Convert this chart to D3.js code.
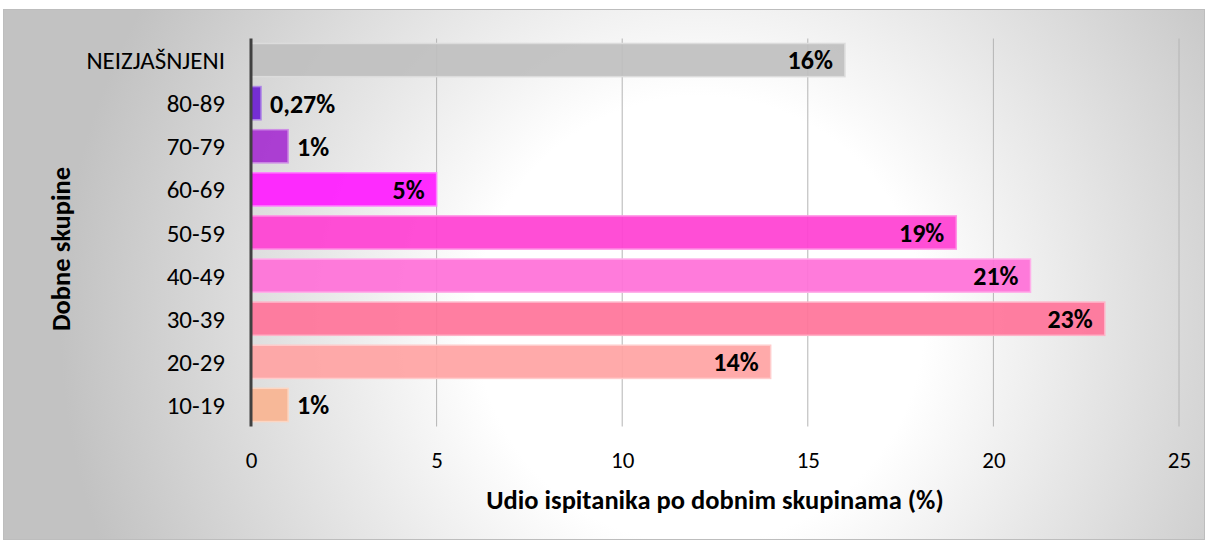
<!DOCTYPE html>
<meta charset="utf-8">
<style>
  body { margin: 0; background: #fff; }
  svg text { font-family: Carlito, Lato, "Open Sans", sans-serif; fill: #000; }
  .cat { font-size: 25px; }
  .tick text { font-size: 23px; }
  .val { font-size: 26px; font-weight: 700; }
  .title { font-size: 26.5px; font-weight: 700; }
</style>
<body>
<svg id="chart" width="1207" height="541"></svg>
</body>
<script src="https://cdnjs.cloudflare.com/ajax/libs/d3/7.8.5/d3.min.js"></script>
<script>
  // top to bottom, as on the chart
  const categories = ['NEIZJAŠNJENI', '80-89', '70-79', '60-69', '50-59', '40-49', '30-39', '20-29', '10-19']
  const values = [16, 0.27, 1, 5, 19, 21, 23, 14, 1]
  const labels = ['16%', '0,27%', '1%', '5%', '19%', '21%', '23%', '14%', '1%']
  const colors = ['#bfbfbf', '#6c1fd2', '#a630d0', '#ff1aff', '#ff3fd2', '#ff70d8', '#ff7399', '#ffa3a3', '#f9b491']
  const ticks = [0, 5, 10, 15, 20, 25]

  const svg = d3.select('#chart')
  const m = { left: 251, right: 1179, top: 38.5, bottom: 426.5 }

  const x = d3.scaleLinear().domain([0, 25]).range([m.left, m.right])
  const y = d3.scaleBand().domain(categories).range([m.top, m.bottom]).paddingInner(0.23).paddingOuter(0.115)

  // background
  const defs = svg.append('defs')
  const grad = defs.append('radialGradient')
      .attr('id', 'bg')
      .attr('gradientUnits', 'userSpaceOnUse')
      .attr('cx', 700).attr('cy', 320).attr('r', 640)
  grad.append('stop').attr('offset', 0).attr('stop-color', '#ffffff')
  grad.append('stop').attr('offset', 0.35).attr('stop-color', '#ffffff')
  grad.append('stop').attr('offset', 1).attr('stop-color', '#c2c2c2')

  svg.append('rect')
      .attr('x', 3.5).attr('y', 9.5)
      .attr('width', 1201).attr('height', 530)
      .attr('fill', 'url(#bg)')
      .attr('stroke', '#bdbdbd')

  // gridlines
  svg.append('g')
    .selectAll('line')
    .data(ticks.slice(1))
    .join('line')
      .attr('x1', d => x(d)).attr('x2', d => x(d))
      .attr('y1', m.top).attr('y2', m.bottom)
      .attr('stroke', '#b4b4b4')
      .attr('stroke-width', 1)

  // bars
  svg.append('g')
    .selectAll('rect')
    .data(values)
    .join('rect')
      .attr('x', x(0))
      .attr('y', (d, i) => y(categories[i]))
      .attr('width', d => x(d) - x(0))
      .attr('height', y.bandwidth())
      .attr('fill', (d, i) => colors[i])
      .attr('fill-opacity', 0.92)
      .attr('stroke', (d, i) => d3.interpolateRgb(colors[i], '#ffffff')(0.45))
      .attr('stroke-width', 1.5)

  // value labels
  svg.append('g')
    .selectAll('text')
    .data(values)
    .join('text')
      .attr('class', 'val')
      .attr('x', d => d > 3 ? x(d) - 12 : x(d) + 9)
      .attr('y', (d, i) => y(categories[i]) + y.bandwidth() / 2)
      .attr('dy', '0.36em')
      .attr('text-anchor', d => d > 3 ? 'end' : 'start')
      .text((d, i) => labels[i])

  // y axis line + category labels
  svg.append('line')
      .attr('x1', x(0)).attr('x2', x(0))
      .attr('y1', m.top).attr('y2', m.bottom)
      .attr('stroke', '#404040')
      .attr('stroke-width', 3)

  svg.append('g')
    .selectAll('text')
    .data(categories)
    .join('text')
      .attr('class', 'cat')
      .attr('x', 225)
      .attr('y', d => y(d) + y.bandwidth() / 2)
      .attr('dy', '0.36em')
      .attr('text-anchor', 'end')
      .text(d => d)

  // x axis ticks
  const xAxis = svg.append('g')
      .attr('transform', `translate(0,${m.bottom})`)
      .call(d3.axisBottom(x).tickValues(ticks).tickSize(0).tickPadding(25))
  xAxis.select('.domain').remove()
  xAxis.selectAll('text').attr('font-family', null).attr('font-size', null)

  // titles
  svg.append('text')
      .attr('class', 'title')
      .attr('x', 715).attr('y', 509)
      .attr('text-anchor', 'middle')
      .text('Udio ispitanika po dobnim skupinama (%)')

  svg.append('text')
      .attr('class', 'title')
      .attr('transform', 'translate(70,249) rotate(-90)')
      .attr('text-anchor', 'middle')
      .text('Dobne skupine')
</script>
